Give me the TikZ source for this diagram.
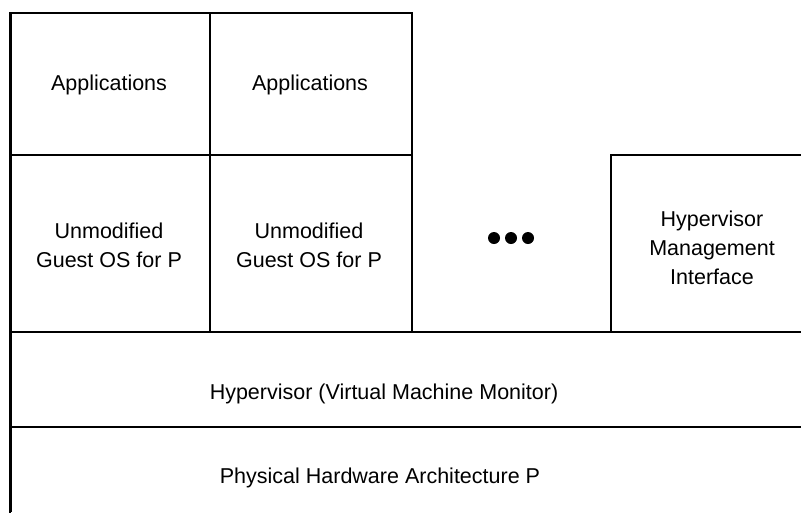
\documentclass[tikz,border=0pt]{standalone}
\usepackage{fontspec}
\setmainfont{Liberation Sans}
\begin{document}
\begin{tikzpicture}[x=1pt,y=-1pt,
  layerbox/.style={draw=black, line width=2pt, anchor=north west, inner sep=0pt, outer sep=0pt},
  lbl/.style={font=\fontsize{21.5}{29}\selectfont, inner sep=0pt, align=center},
  dotmark/.style={circle, fill=black, minimum size=12pt, inner sep=0pt}]
\useasboundingbox (0,0) rectangle (801,512);
\clip (0,0) rectangle (801,512);
% boxes
\node[layerbox, minimum width=200pt, minimum height=142pt] (app1) at (10,13) {};
\node[layerbox, minimum width=202pt, minimum height=142pt] (app2) at (210,13) {};
\node[layerbox, minimum width=200pt, minimum height=177pt] (os1) at (10,155) {};
\node[layerbox, minimum width=202pt, minimum height=177pt] (os2) at (210,155) {};
\node[layerbox, minimum width=209pt, minimum height=177pt] (mgmt) at (611,155) {};
\node[layerbox, minimum width=820pt, minimum height=95pt] (hv) at (10,332) {};
\node[layerbox, minimum width=820pt, minimum height=120pt] (hw) at (10,427) {};
\draw[line width=3pt] (10,13) -- (10,512);
% labels
\node[lbl, anchor=base] (tapp1) at (109,90) {Applications};
\node[lbl, anchor=base] (tapp2) at (310,90) {Applications};
\node[lbl] (tos1) at (109,245) {Unmodified\\Guest OS for P};
\node[lbl] (tos2) at (309,245) {Unmodified\\Guest OS for P};
\node[lbl] (tmgmt) at (712,248) {Hypervisor\\Management\\Interface};
\node[lbl, anchor=base] (thv) at (384,399) {Hypervisor (Virtual Machine Monitor)};
\node[lbl, anchor=base] (thw) at (380,483) {Physical Hardware Architecture P};
% dots
\node[dotmark] (d1) at (494,238) {};
\node[dotmark] (d2) at (511,238) {};
\node[dotmark] (d3) at (528,238) {};
\end{tikzpicture}
\end{document}
